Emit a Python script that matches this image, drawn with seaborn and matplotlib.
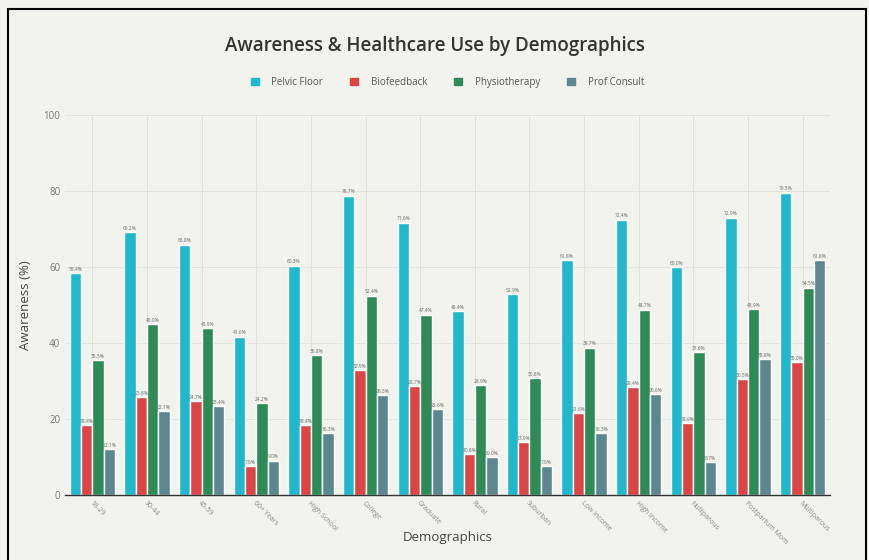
import matplotlib
matplotlib.use("Agg")
import matplotlib.pyplot as plt
import matplotlib.patches as mpatches
import seaborn as sns
import pandas as pd

sns.set_style("whitegrid")
plt.rcParams["font.family"] = ["Open Sans", "DejaVu Sans"]

# data
demographics = ["18-29", "30-44", "45-59", "60+ Years", "High School", "College",
                "Graduate", "Rural", "Suburban", "Low Income", "High Income",
                "Nulliparous", "Postpartum Mom", "Multiparous"]
pelvic_floor = [58.4, 69.2, 65.8, 41.6, 60.3, 78.7, 71.6, 48.4, 52.9, 61.8, 72.4, 60.0, 72.9, 79.5]
biofeedback = [18.4, 25.8, 24.7, 7.6, 18.4, 32.9, 28.7, 10.8, 13.9, 21.6, 28.4, 18.9, 30.5, 35.0]
physiotherapy = [35.5, 45.0, 43.9, 24.2, 36.8, 52.4, 47.4, 28.9, 30.8, 38.7, 48.7, 37.6, 48.9, 54.5]
prof_consult = [12.1, 22.1, 23.4, 9.0, 16.3, 26.3, 22.6, 10.0, 7.6, 16.3, 26.6, 8.7, 35.8, 61.8]

series = ["Pelvic Floor", "Biofeedback", "Physiotherapy", "Prof Consult"]
colors = ["#1FB8CD", "#DB4545", "#2E8B57", "#5D878F"]

df = pd.DataFrame({"Demographics": demographics,
                   "Pelvic Floor": pelvic_floor,
                   "Biofeedback": biofeedback,
                   "Physiotherapy": physiotherapy,
                   "Prof Consult": prof_consult})
long_df = df.melt(id_vars="Demographics", var_name="Measure", value_name="Awareness")

bg = "#F3F3EE"
fig = plt.figure(figsize=(8.69, 5.6), dpi=100, facecolor=bg)
ax = fig.add_axes([0.075, 0.116, 0.88, 0.679])
ax.set_facecolor(bg)

sns.barplot(data=long_df, x="Demographics", y="Awareness", hue="Measure",
            hue_order=series, palette=colors, width=0.83, saturation=1,
            ax=ax, legend=False)

for cont in ax.containers:
    ax.bar_label(cont, fmt="%.1f%%", fontsize=3.5, color="#666666", padding=1)

ax.set_ylim(0, 100)
ax.set_yticks(range(0, 101, 20))
ax.grid(True, color="#E2E2DC", linewidth=0.7)
for s in ["top", "right", "left"]:
    ax.spines[s].set_visible(False)
ax.spines["bottom"].set_color("#333333")
ax.spines["bottom"].set_linewidth(1)
ax.tick_params(axis="y", labelsize=7, colors="#777777", length=0)
ax.tick_params(axis="x", labelsize=5, colors="#888888", length=0)
plt.setp(ax.get_xticklabels(), rotation=-45, ha="left", va="top", rotation_mode="anchor")

ax.set_xlabel("")
fig.text(0.515, 0.041, "Demographics", ha="center", va="center",
         fontsize=9.5, color="#444444")
ax.set_ylabel("Awareness (%)", fontsize=9.5, color="#444444", labelpad=8)

fig.suptitle("Awareness & Healthcare Use by Demographics", y=0.935, fontsize=13.5,
             fontweight="semibold", color="#333333")

handles = [mpatches.Patch(color=c, label=s) for c, s in zip(colors, series)]
fig.legend(handles=handles, loc="center", bbox_to_anchor=(0.515, 0.853), ncol=4,
           frameon=False, fontsize=7, handlelength=0.8, handleheight=0.8,
           columnspacing=2.8, handletextpad=1.3, labelcolor="#555555")

# outer frame
fig.patches.append(mpatches.Rectangle((8 / 869, -0.05), 858 / 869, 1.05 - 9 / 560,
                                      transform=fig.transFigure, fill=False,
                                      edgecolor="black", linewidth=1.5))

fig.savefig("out.png", dpi=100, facecolor=bg)
